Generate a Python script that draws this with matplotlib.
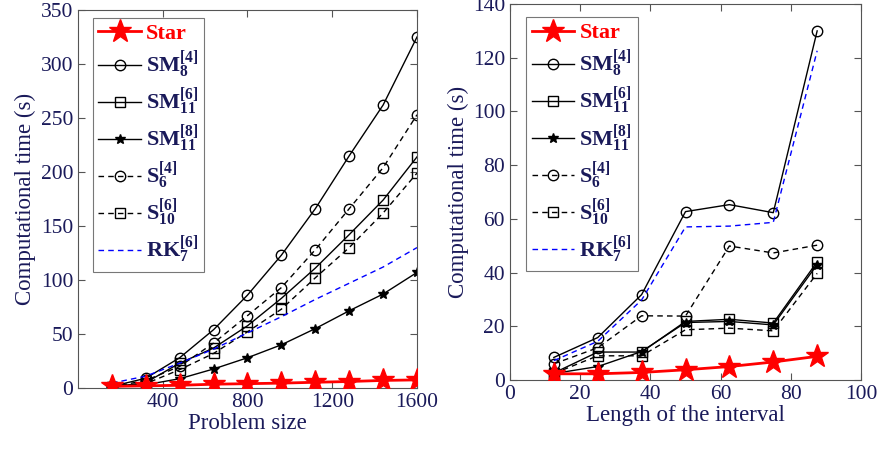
import matplotlib
matplotlib.use("Agg")
import matplotlib.pyplot as plt

plt.rcParams['font.family'] = ['Liberation Serif', 'DejaVu Serif']
plt.rcParams['mathtext.fontset'] = 'custom'
plt.rcParams['mathtext.rm'] = 'Liberation Serif'
plt.rcParams['mathtext.bf'] = 'Liberation Serif:bold'
plt.rcParams['mathtext.it'] = 'Liberation Serif:italic'

NAVY = '#1a1a5a'

# Left panel data
size = [160, 320, 480, 640, 800, 960, 1120, 1280, 1440, 1600]
L_star = [1.5, 2, 2.5, 3.5, 4, 4.5, 5.3, 6, 7, 7.5]
L_SM8_4 = [1.5, 9, 28, 54, 86, 123, 166, 215, 262, 325]
L_SM11_6 = [1, 5, 23, 37, 57.6, 83, 111, 142, 174, 214]
L_SM11_8 = [1, 3, 8.6, 17.6, 28, 40, 55, 71.5, 87, 107]
L_S6_4 = [1, 7, 20, 41.6, 67, 93, 128, 166, 204, 253]
L_S10_6 = [1, 4, 17, 32, 52, 73, 102, 130, 162, 199]
L_RK7_6 = [4.5, 11, 23, 36, 51, 66, 82, 97, 112, 130]

# Right panel data
interval = [12.5, 25, 37.5, 50, 62.5, 75, 87.5]
R_star = [2.3, 2.3, 2.8, 3.8, 5, 6.7, 8.8]
R_SM8_4 = [8.4, 15.8, 31.8, 62.7, 65.3, 62.3, 130]
R_SM11_6 = [2.6, 10.4, 10.4, 21.8, 22.6, 21.2, 44]
R_SM11_8 = [2.4, 5, 10.6, 21.4, 21.8, 20.5, 43]
R_S6_4 = [6, 12, 23.9, 23.8, 49.9, 47.3, 50.2]
R_S10_6 = [2.4, 9, 9, 18.7, 19.3, 18.3, 39.7]
R_RK7_6 = [7.2, 14.4, 29.8, 57, 57.3, 58.7, 122.6]

labels = ['Star',
          r'$\mathbf{SM}_{\mathbf{8}}^{\mathbf{[4]}}$',
          r'$\mathbf{SM}_{\mathbf{11}}^{\mathbf{[6]}}$',
          r'$\mathbf{SM}_{\mathbf{11}}^{\mathbf{[8]}}$',
          r'$\mathbf{S}_{\mathbf{6}}^{\mathbf{[4]}}$',
          r'$\mathbf{S}_{\mathbf{10}}^{\mathbf{[6]}}$',
          r'$\mathbf{RK}_{\mathbf{7}}^{\mathbf{[6]}}$']

fig = plt.figure(figsize=(8.77, 4.5), dpi=100)
ax1 = fig.add_axes([0.0889, 0.1378, 0.3866, 0.84])
ax2 = fig.add_axes([0.5815, 0.1556, 0.4003, 0.8354])


def draw(ax, x, star, sm8, sm116, sm118, s6, s10, rk, anchor):
    ax.plot(x, star, color='red', lw=2, marker='*', ms=17, mfc='red', mec='red', zorder=5)
    ax.plot(x, sm8, color='black', lw=1, marker='o', ms=7.5, mfc='none', mec='black')
    ax.plot(x, sm116, color='black', lw=1, marker='s', ms=6.5, mfc='none', mec='black')
    ax.plot(x, sm118, color='black', lw=1, marker='*', ms=7, mfc='black', mec='black')
    ax.plot(x, s6, color='black', lw=1, ls=(0, (4, 3)), marker='o', ms=7.5, mfc='none', mec='black')
    ax.plot(x, s10, color='black', lw=1, ls=(0, (4, 3)), marker='s', ms=6.5, mfc='none', mec='black')
    ax.plot(x, rk, color='blue', lw=1, ls=(0, (4, 3)))
    for s in ax.spines.values():
        s.set_color('#555555')
        s.set_linewidth(0.8)
    ax.tick_params(direction='in', top=True, right=True, labelsize=15.5,
                   labelcolor=NAVY, color='#555555', length=5)
    leg = ax.legend(labels, loc='upper left', fontsize=16, frameon=True, fancybox=False,
                    handlelength=1.9, labelspacing=0.22, borderpad=0.25,
                    handletextpad=0.25, borderaxespad=0, bbox_to_anchor=anchor)
    leg.get_frame().set_edgecolor('#555555')
    leg.get_frame().set_linewidth(0.8)
    for i, t in enumerate(leg.get_texts()):
        t.set_fontweight('bold')
        t.set_color('red' if i == 0 else NAVY)


draw(ax1, size, L_star, L_SM8_4, L_SM11_6, L_SM11_8, L_S6_4, L_S10_6, L_RK7_6, (0.044, 0.979))
ax1.set_xlim(0, 1600)
ax1.set_ylim(0, 350)
ax1.set_xticks([400, 800, 1200, 1600])
ax1.set_yticks(range(0, 351, 50))
ax1.set_xlabel('Problem size', fontsize=16.5, color=NAVY, labelpad=1)
ax1.set_ylabel('Computational time (s)', fontsize=16.5, color=NAVY, labelpad=3)

draw(ax2, interval, R_star, R_SM8_4, R_SM11_6, R_SM11_8, R_S6_4, R_S10_6, R_RK7_6, (0.046, 0.965))
ax2.set_xlim(0, 100)
ax2.set_ylim(0, 140)
ax2.set_xticks(range(0, 101, 20))
ax2.set_yticks(range(0, 141, 20))
ax2.set_xlabel('Length of the interval', fontsize=16.5, color=NAVY, labelpad=1)
ax2.set_ylabel('Computational time (s)', fontsize=16.5, color=NAVY, labelpad=3)

fig.savefig('out.png', dpi=100)
